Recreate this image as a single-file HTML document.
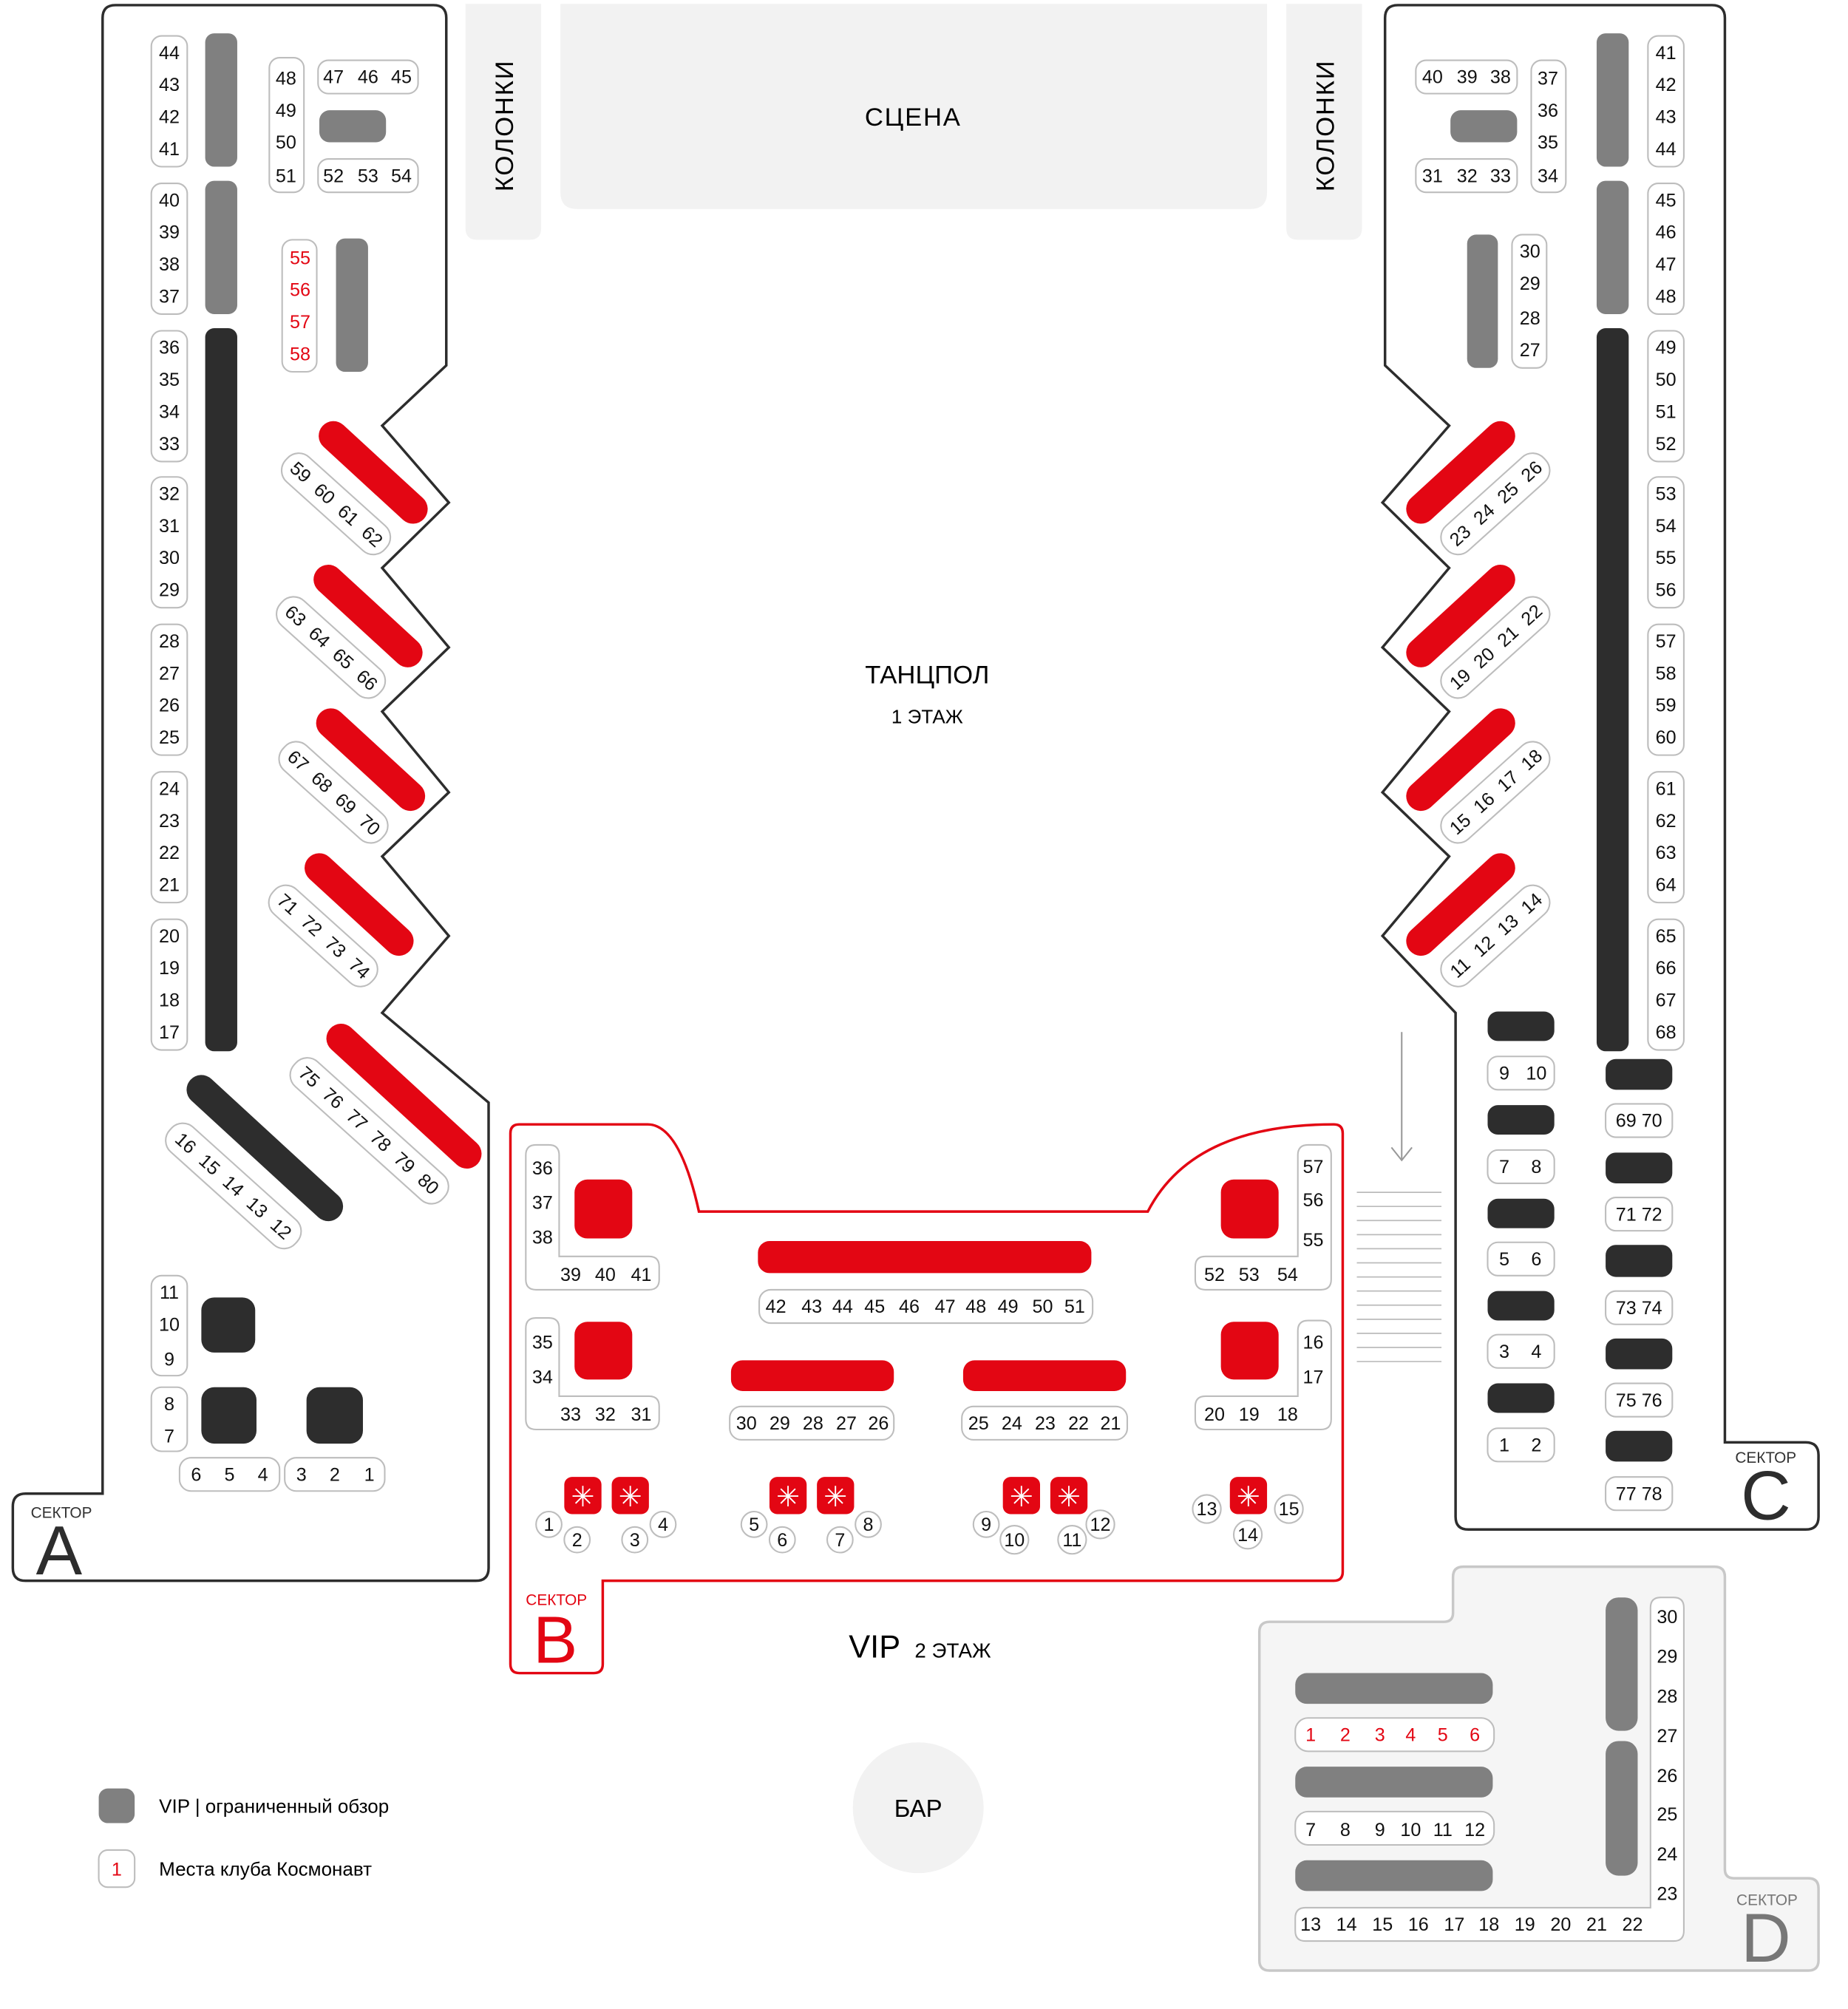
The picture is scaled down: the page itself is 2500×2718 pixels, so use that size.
<!DOCTYPE html>
<html><head><meta charset="utf-8"><style>
html,body{margin:0;padding:0;background:#fff}
svg{display:block}
text{font-family:"Liberation Sans","DejaVu Sans",sans-serif}
.n{font-size:14.5px;fill:#111;text-anchor:middle}
.r{fill:#e30613}
.b{fill:#fff;stroke:#bdbdbd;stroke-width:1.2}
.g{fill:#808080}
.k{fill:#2d2d2d}
.red{fill:#e30613}
</style></head><body>
<svg width="2500" height="2718" viewBox="0 0 1441 1567" preserveAspectRatio="none" xmlns="http://www.w3.org/2000/svg">
<!-- stage -->
<path d="M437,3 H988 V150 Q988,163 975,163 H450 Q437,163 437,150Z" fill="#f2f2f2"/>
<text x="712" y="98" style="font-size:20px;text-anchor:middle;letter-spacing:1px">СЦЕНА</text>
<path d="M363,3 H422 V178 Q422,187 413,187 H372 Q363,187 363,178Z" fill="#f2f2f2"/>
<path d="M1003,3 H1062 V178 Q1062,187 1053,187 H1012 Q1003,187 1003,178Z" fill="#f2f2f2"/>
<text transform="translate(400,98) rotate(-90)" style="font-size:20px;text-anchor:middle;letter-spacing:1px">КОЛОНКИ</text>
<text transform="translate(1040,98) rotate(-90)" style="font-size:20px;text-anchor:middle;letter-spacing:1px">КОЛОНКИ</text>
<text x="723" y="533" style="font-size:20px;text-anchor:middle">ТАНЦПОЛ</text>
<text x="723" y="564" style="font-size:15px;text-anchor:middle">1 ЭТАЖ</text>

<path d="M90,4 H338 Q348,4 348,14 V285 L298,332 L350,392 L298,443 L350,505 L298,555 L350,618 L298,668 L350,730 L298,790 L381,860 V1223 Q381,1233 371,1233 H20 Q10,1233 10,1223 V1175 Q10,1165 20,1165 H80 V14 Q80,4 90,4Z" fill="none" stroke="#2d2d2d" stroke-width="2"/>
<path d="M1335,4 Q1345,4 1345,14 V1125 H1408 Q1418,1125 1418,1135 V1183 Q1418,1193 1408,1193 H1145 Q1135,1193 1135,1183 V790 L1078,730 L1130,668 L1078,618 L1130,555 L1078,505 L1130,443 L1078,392 L1130,332 L1080,285 V14 Q1080,4 1090,4Z" fill="none" stroke="#2d2d2d" stroke-width="2"/>
<path d="M408,877 H505 Q530,877 545,945 H895 Q930,877 1040,877 Q1047,877 1047,884 V1226 Q1047,1233 1040,1233 H470 V1298 Q470,1305 463,1305 H405 Q398,1305 398,1298 V884 Q398,877 405,877Z" fill="none" stroke="#e30613" stroke-width="2"/>
<path d="M990,1265 H1126 Q1133,1265 1133,1258 V1230 Q1133,1222 1141,1222 H1337 Q1345,1222 1345,1230 V1458 Q1345,1465 1352,1465 H1410 Q1418,1465 1418,1473 V1529 Q1418,1537 1410,1537 H990 Q982,1537 982,1529 V1273 Q982,1265 990,1265Z" fill="#f5f5f5" stroke="#c8c8c8" stroke-width="2"/>

<!-- Sector A -->
<rect class="g" x="160" y="26" width="25" height="104" rx="7"/>
<rect class="g" x="160" y="141" width="25" height="104" rx="7"/>
<rect class="k" x="160" y="256" width="25" height="564" rx="7"/>
<rect class="b" x="118" y="28" width="28" height="102" rx="8"/>
<text class="n" x="132" y="46">44</text><text class="n" x="132" y="71">43</text><text class="n" x="132" y="96">42</text><text class="n" x="132" y="121">41</text>
<rect class="b" x="118" y="143" width="28" height="102" rx="8"/>
<text class="n" x="132" y="161">40</text><text class="n" x="132" y="186">39</text><text class="n" x="132" y="211">38</text><text class="n" x="132" y="236">37</text>
<rect class="b" x="118" y="258" width="28" height="102" rx="8"/>
<text class="n" x="132" y="276">36</text><text class="n" x="132" y="301">35</text><text class="n" x="132" y="326">34</text><text class="n" x="132" y="351">33</text>
<rect class="b" x="118" y="372" width="28" height="102" rx="8"/>
<text class="n" x="132" y="390">32</text><text class="n" x="132" y="415">31</text><text class="n" x="132" y="440">30</text><text class="n" x="132" y="465">29</text>
<rect class="b" x="118" y="487" width="28" height="102" rx="8"/>
<text class="n" x="132" y="505">28</text><text class="n" x="132" y="530">27</text><text class="n" x="132" y="555">26</text><text class="n" x="132" y="580">25</text>
<rect class="b" x="118" y="602" width="28" height="102" rx="8"/>
<text class="n" x="132" y="620">24</text><text class="n" x="132" y="645">23</text><text class="n" x="132" y="670">22</text><text class="n" x="132" y="695">21</text>
<rect class="b" x="118" y="717" width="28" height="102" rx="8"/>
<text class="n" x="132" y="735">20</text><text class="n" x="132" y="760">19</text><text class="n" x="132" y="785">18</text><text class="n" x="132" y="810">17</text>
<rect class="b" x="210" y="45" width="27" height="105" rx="8"/>
<text class="n" x="223" y="66">48</text><text class="n" x="223" y="91">49</text><text class="n" x="223" y="116">50</text><text class="n" x="223" y="142">51</text>
<rect class="b" x="248" y="47" width="78" height="26" rx="8"/>
<text class="n" x="260" y="65">47</text><text class="n" x="287" y="65">46</text><text class="n" x="313" y="65">45</text>
<rect class="b" x="248" y="124" width="78" height="26" rx="8"/>
<text class="n" x="260" y="142">52</text><text class="n" x="287" y="142">53</text><text class="n" x="313" y="142">54</text>
<rect class="g" x="249" y="86" width="52" height="25" rx="8"/>
<rect class="b" x="220" y="187" width="27" height="103" rx="8"/>
<text class="n r" x="234" y="206">55</text><text class="n r" x="234" y="231">56</text><text class="n r" x="234" y="256">57</text><text class="n r" x="234" y="281">58</text>
<rect class="g" x="262" y="186" width="25" height="104" rx="7"/>

<g stroke-linecap="round" stroke-width="23">
<line x1="260" y1="340" x2="322" y2="397" stroke="#e30613"/>
<line x1="256" y1="452" x2="318" y2="509" stroke="#e30613"/>
<line x1="258" y1="564" x2="320" y2="621" stroke="#e30613"/>
<line x1="249" y1="677" x2="311" y2="734" stroke="#e30613"/>
<line x1="266" y1="810" x2="364" y2="900" stroke="#e30613"/>
<line x1="157" y1="850" x2="256" y2="941" stroke="#2d2d2d"/>
</g>
<g transform="translate(262,393) rotate(42)"><rect class="b" x="-52" y="-13" width="104" height="26" rx="12"/>
<text class="n" x="-37" y="5">59</text><text class="n" x="-12" y="5">60</text><text class="n" x="13" y="5">61</text><text class="n" x="38" y="5">62</text></g>
<g transform="translate(258,505) rotate(42)"><rect class="b" x="-52" y="-13" width="104" height="26" rx="12"/>
<text class="n" x="-37" y="5">63</text><text class="n" x="-12" y="5">64</text><text class="n" x="13" y="5">65</text><text class="n" x="38" y="5">66</text></g>
<g transform="translate(260,618) rotate(42)"><rect class="b" x="-52" y="-13" width="104" height="26" rx="12"/>
<text class="n" x="-37" y="5">67</text><text class="n" x="-12" y="5">68</text><text class="n" x="13" y="5">69</text><text class="n" x="38" y="5">70</text></g>
<g transform="translate(252,730) rotate(42)"><rect class="b" x="-52" y="-13" width="104" height="26" rx="12"/>
<text class="n" x="-37" y="5">71</text><text class="n" x="-12" y="5">72</text><text class="n" x="13" y="5">73</text><text class="n" x="38" y="5">74</text></g>
<g transform="translate(288,882) rotate(42)"><rect class="b" x="-78" y="-13" width="156" height="26" rx="12"/>
<text class="n" x="-63" y="5">75</text><text class="n" x="-38" y="5">76</text><text class="n" x="-13" y="5">77</text><text class="n" x="12" y="5">78</text><text class="n" x="37" y="5">79</text><text class="n" x="62" y="5">80</text></g>
<g transform="translate(182,925) rotate(42)"><rect class="b" x="-66" y="-13" width="132" height="26" rx="12"/>
<text class="n" x="-50" y="5">16</text><text class="n" x="-25" y="5">15</text><text class="n" x="0" y="5">14</text><text class="n" x="25" y="5">13</text><text class="n" x="50" y="5">12</text></g>

<rect class="b" x="118" y="995" width="28" height="78" rx="8"/>
<text class="n" x="132" y="1013">11</text><text class="n" x="132" y="1038">10</text><text class="n" x="132" y="1065">9</text>
<rect class="b" x="118" y="1082" width="28" height="50" rx="8"/>
<text class="n" x="132" y="1100">8</text><text class="n" x="132" y="1125">7</text>
<rect class="k" x="157" y="1012" width="42" height="43" rx="10"/>
<rect class="k" x="157" y="1082" width="43" height="44" rx="10"/>
<rect class="k" x="239" y="1082" width="44" height="44" rx="10"/>
<rect class="b" x="140" y="1137" width="78" height="26" rx="9"/>
<text class="n" x="153" y="1155">6</text><text class="n" x="179" y="1155">5</text><text class="n" x="205" y="1155">4</text>
<rect class="b" x="222" y="1137" width="78" height="26" rx="9"/>
<text class="n" x="235" y="1155">3</text><text class="n" x="261" y="1155">2</text><text class="n" x="288" y="1155">1</text>
<text x="24" y="1184" style="font-size:12px;fill:#333">СЕКТОР</text>
<text x="46" y="1228" style="font-size:54px;fill:#2d2d2d;text-anchor:middle">A</text>

<!-- Sector C -->
<rect class="g" x="1245" y="26" width="25" height="104" rx="7"/>
<rect class="g" x="1245" y="141" width="25" height="104" rx="7"/>
<rect class="k" x="1245" y="256" width="25" height="564" rx="7"/>
<rect class="b" x="1285" y="28" width="28" height="102" rx="8"/>
<text class="n" x="1299" y="46">41</text><text class="n" x="1299" y="71">42</text><text class="n" x="1299" y="96">43</text><text class="n" x="1299" y="121">44</text>
<rect class="b" x="1285" y="143" width="28" height="102" rx="8"/>
<text class="n" x="1299" y="161">45</text><text class="n" x="1299" y="186">46</text><text class="n" x="1299" y="211">47</text><text class="n" x="1299" y="236">48</text>
<rect class="b" x="1285" y="258" width="28" height="102" rx="8"/>
<text class="n" x="1299" y="276">49</text><text class="n" x="1299" y="301">50</text><text class="n" x="1299" y="326">51</text><text class="n" x="1299" y="351">52</text>
<rect class="b" x="1285" y="372" width="28" height="102" rx="8"/>
<text class="n" x="1299" y="390">53</text><text class="n" x="1299" y="415">54</text><text class="n" x="1299" y="440">55</text><text class="n" x="1299" y="465">56</text>
<rect class="b" x="1285" y="487" width="28" height="102" rx="8"/>
<text class="n" x="1299" y="505">57</text><text class="n" x="1299" y="530">58</text><text class="n" x="1299" y="555">59</text><text class="n" x="1299" y="580">60</text>
<rect class="b" x="1285" y="602" width="28" height="102" rx="8"/>
<text class="n" x="1299" y="620">61</text><text class="n" x="1299" y="645">62</text><text class="n" x="1299" y="670">63</text><text class="n" x="1299" y="695">64</text>
<rect class="b" x="1285" y="717" width="28" height="102" rx="8"/>
<text class="n" x="1299" y="735">65</text><text class="n" x="1299" y="760">66</text><text class="n" x="1299" y="785">67</text><text class="n" x="1299" y="810">68</text>
<rect class="b" x="1194" y="47" width="27" height="103" rx="8"/>
<text class="n" x="1207" y="66">37</text><text class="n" x="1207" y="91">36</text><text class="n" x="1207" y="116">35</text><text class="n" x="1207" y="142">34</text>
<rect class="b" x="1104" y="47" width="79" height="26" rx="8"/>
<text class="n" x="1117" y="65">40</text><text class="n" x="1144" y="65">39</text><text class="n" x="1170" y="65">38</text>
<rect class="b" x="1104" y="124" width="79" height="26" rx="8"/>
<text class="n" x="1117" y="142">31</text><text class="n" x="1144" y="142">32</text><text class="n" x="1170" y="142">33</text>
<rect class="g" x="1131" y="86" width="52" height="25" rx="8"/>
<rect class="g" x="1144" y="183" width="24" height="104" rx="7"/>
<rect class="b" x="1179" y="183" width="27" height="104" rx="8"/>
<text class="n" x="1193" y="201">30</text><text class="n" x="1193" y="226">29</text><text class="n" x="1193" y="253">28</text><text class="n" x="1193" y="278">27</text>

<g stroke-linecap="round" stroke-width="23" stroke="#e30613">
<line x1="1170" y1="340" x2="1108" y2="397"/>
<line x1="1170" y1="452" x2="1108" y2="509"/>
<line x1="1170" y1="564" x2="1108" y2="621"/>
<line x1="1170" y1="677" x2="1108" y2="734"/>
</g>
<g transform="translate(1166,393) rotate(-42)"><rect class="b" x="-52" y="-13" width="104" height="26" rx="12"/>
<text class="n" x="-37" y="5">23</text><text class="n" x="-12" y="5">24</text><text class="n" x="13" y="5">25</text><text class="n" x="38" y="5">26</text></g>
<g transform="translate(1166,505) rotate(-42)"><rect class="b" x="-52" y="-13" width="104" height="26" rx="12"/>
<text class="n" x="-37" y="5">19</text><text class="n" x="-12" y="5">20</text><text class="n" x="13" y="5">21</text><text class="n" x="38" y="5">22</text></g>
<g transform="translate(1166,618) rotate(-42)"><rect class="b" x="-52" y="-13" width="104" height="26" rx="12"/>
<text class="n" x="-37" y="5">15</text><text class="n" x="-12" y="5">16</text><text class="n" x="13" y="5">17</text><text class="n" x="38" y="5">18</text></g>
<g transform="translate(1166,730) rotate(-42)"><rect class="b" x="-52" y="-13" width="104" height="26" rx="12"/>
<text class="n" x="-37" y="5">11</text><text class="n" x="-12" y="5">12</text><text class="n" x="13" y="5">13</text><text class="n" x="38" y="5">14</text></g>

<rect class="k" x="1160" y="789" width="52" height="23" rx="8"/>
<rect class="b" x="1160" y="824" width="52" height="26" rx="8"/><text class="n" x="1173" y="842">9</text><text class="n" x="1198" y="842">10</text>
<rect class="k" x="1160" y="862" width="52" height="23" rx="8"/>
<rect class="b" x="1160" y="897" width="52" height="26" rx="8"/><text class="n" x="1173" y="915">7</text><text class="n" x="1198" y="915">8</text>
<rect class="k" x="1160" y="935" width="52" height="23" rx="8"/>
<rect class="b" x="1160" y="969" width="52" height="26" rx="8"/><text class="n" x="1173" y="987">5</text><text class="n" x="1198" y="987">6</text>
<rect class="k" x="1160" y="1007" width="52" height="23" rx="8"/>
<rect class="b" x="1160" y="1041" width="52" height="26" rx="8"/><text class="n" x="1173" y="1059">3</text><text class="n" x="1198" y="1059">4</text>
<rect class="k" x="1160" y="1079" width="52" height="23" rx="8"/>
<rect class="b" x="1160" y="1114" width="52" height="26" rx="8"/><text class="n" x="1173" y="1132">1</text><text class="n" x="1198" y="1132">2</text>

<rect class="k" x="1252" y="826" width="52" height="24" rx="8"/>
<rect class="b" x="1252" y="861" width="52" height="26" rx="8"/><text class="n" x="1278" y="879">69 70</text>
<rect class="k" x="1252" y="899" width="52" height="24" rx="8"/>
<rect class="b" x="1252" y="934" width="52" height="26" rx="8"/><text class="n" x="1278" y="952">71 72</text>
<rect class="k" x="1252" y="971" width="52" height="25" rx="8"/>
<rect class="b" x="1252" y="1007" width="52" height="26" rx="8"/><text class="n" x="1278" y="1025">73 74</text>
<rect class="k" x="1252" y="1044" width="52" height="24" rx="8"/>
<rect class="b" x="1252" y="1079" width="52" height="26" rx="8"/><text class="n" x="1278" y="1097">75 76</text>
<rect class="k" x="1252" y="1116" width="52" height="24" rx="8"/>
<rect class="b" x="1252" y="1152" width="52" height="26" rx="8"/><text class="n" x="1278" y="1170">77 78</text>

<line x1="1093" y1="805" x2="1093" y2="905" stroke="#999" stroke-width="1.2"/>
<polyline points="1085,895 1093,905 1101,895" fill="none" stroke="#999" stroke-width="1.2"/>
<g stroke="#bbb" stroke-width="1">
<line x1="1058" y1="930" x2="1124" y2="930"/><line x1="1058" y1="941" x2="1124" y2="941"/><line x1="1058" y1="952" x2="1124" y2="952"/><line x1="1058" y1="963" x2="1124" y2="963"/><line x1="1058" y1="974" x2="1124" y2="974"/><line x1="1058" y1="985" x2="1124" y2="985"/><line x1="1058" y1="996" x2="1124" y2="996"/><line x1="1058" y1="1007" x2="1124" y2="1007"/><line x1="1058" y1="1018" x2="1124" y2="1018"/><line x1="1058" y1="1029" x2="1124" y2="1029"/><line x1="1058" y1="1040" x2="1124" y2="1040"/><line x1="1058" y1="1051" x2="1124" y2="1051"/><line x1="1058" y1="1062" x2="1124" y2="1062"/>
</g>
<text x="1353" y="1141" style="font-size:12px;fill:#333">СЕКТОР</text>
<text x="1377" y="1185" style="font-size:54px;fill:#2d2d2d;text-anchor:middle">C</text>

<!-- Sector B -->
<path class="b" d="M418,893 H428 Q436,893 436,901 V980 H506 Q514,980 514,988 V998 Q514,1006 506,1006 H418 Q410,1006 410,998 V901 Q410,893 418,893Z"/>
<text class="n" x="423" y="916">36</text><text class="n" x="423" y="943">37</text><text class="n" x="423" y="970">38</text>
<text class="n" x="445" y="999">39</text><text class="n" x="472" y="999">40</text><text class="n" x="500" y="999">41</text>
<rect class="red" x="448" y="920" width="45" height="46" rx="10"/>
<path class="b" d="M418,1028 H428 Q436,1028 436,1036 V1089 H506 Q514,1089 514,1097 V1107 Q514,1115 506,1115 H418 Q410,1115 410,1107 V1036 Q410,1028 418,1028Z"/>
<text class="n" x="423" y="1052">35</text><text class="n" x="423" y="1079">34</text>
<text class="n" x="445" y="1108">33</text><text class="n" x="472" y="1108">32</text><text class="n" x="500" y="1108">31</text>
<rect class="red" x="448" y="1031" width="45" height="45" rx="10"/>

<path class="b" d="M1020,893 H1030 Q1038,893 1038,901 V998 Q1038,1006 1030,1006 H940 Q932,1006 932,998 V988 Q932,980 940,980 H1012 V901 Q1012,893 1020,893Z"/>
<text class="n" x="1024" y="915">57</text><text class="n" x="1024" y="941">56</text><text class="n" x="1024" y="972">55</text>
<text class="n" x="947" y="999">52</text><text class="n" x="974" y="999">53</text><text class="n" x="1004" y="999">54</text>
<rect class="red" x="952" y="920" width="45" height="46" rx="10"/>
<path class="b" d="M1020,1030 H1030 Q1038,1030 1038,1038 V1107 Q1038,1115 1030,1115 H940 Q932,1115 932,1107 V1097 Q932,1089 940,1089 H1012 V1038 Q1012,1030 1020,1030Z"/>
<text class="n" x="1024" y="1052">16</text><text class="n" x="1024" y="1079">17</text>
<text class="n" x="947" y="1108">20</text><text class="n" x="974" y="1108">19</text><text class="n" x="1004" y="1108">18</text>
<rect class="red" x="952" y="1031" width="45" height="45" rx="10"/>

<rect class="red" x="591" y="968" width="260" height="25" rx="9"/>
<rect class="b" x="592" y="1006" width="260" height="26" rx="9"/>
<text class="n" x="605" y="1024">42</text><text class="n" x="633" y="1024">43</text><text class="n" x="657" y="1024">44</text><text class="n" x="682" y="1024">45</text><text class="n" x="709" y="1024">46</text><text class="n" x="737" y="1024">47</text><text class="n" x="761" y="1024">48</text><text class="n" x="786" y="1024">49</text><text class="n" x="813" y="1024">50</text><text class="n" x="838" y="1024">51</text>
<rect class="red" x="570" y="1061" width="127" height="24" rx="9"/>
<rect class="red" x="751" y="1061" width="127" height="24" rx="9"/>
<rect class="b" x="569" y="1097" width="128" height="26" rx="9"/>
<text class="n" x="582" y="1115">30</text><text class="n" x="608" y="1115">29</text><text class="n" x="634" y="1115">28</text><text class="n" x="660" y="1115">27</text><text class="n" x="685" y="1115">26</text>
<rect class="b" x="750" y="1097" width="129" height="26" rx="9"/>
<text class="n" x="763" y="1115">25</text><text class="n" x="789" y="1115">24</text><text class="n" x="815" y="1115">23</text><text class="n" x="841" y="1115">22</text><text class="n" x="866" y="1115">21</text>

<g>
<rect class="red" x="440" y="1152" width="29" height="29" rx="6"/><rect class="red" x="477" y="1152" width="29" height="29" rx="6"/>
<rect class="red" x="600" y="1152" width="29" height="29" rx="6"/><rect class="red" x="637" y="1152" width="29" height="29" rx="6"/>
<rect class="red" x="782" y="1152" width="29" height="29" rx="6"/><rect class="red" x="819" y="1152" width="29" height="29" rx="6"/>
<rect class="red" x="959" y="1152" width="29" height="29" rx="6"/>
</g>
<g style="font-size:22px;fill:#fff;text-anchor:middle">
<text x="454.5" y="1175">✳</text><text x="491.5" y="1175">✳</text>
<text x="614.5" y="1175">✳</text><text x="651.5" y="1175">✳</text>
<text x="796.5" y="1175">✳</text><text x="833.5" y="1175">✳</text>
<text x="973.5" y="1175">✳</text>
</g>
<g>
<circle class="b" cx="428" cy="1189" r="10"/><text class="n" x="428" y="1194">1</text>
<circle class="b" cx="450" cy="1201" r="10"/><text class="n" x="450" y="1206">2</text>
<circle class="b" cx="495" cy="1201" r="10"/><text class="n" x="495" y="1206">3</text>
<circle class="b" cx="517" cy="1189" r="10"/><text class="n" x="517" y="1194">4</text>
<circle class="b" cx="588" cy="1189" r="10"/><text class="n" x="588" y="1194">5</text>
<circle class="b" cx="610" cy="1201" r="10"/><text class="n" x="610" y="1206">6</text>
<circle class="b" cx="655" cy="1201" r="10"/><text class="n" x="655" y="1206">7</text>
<circle class="b" cx="677" cy="1189" r="10"/><text class="n" x="677" y="1194">8</text>
<circle class="b" cx="769" cy="1189" r="10"/><text class="n" x="769" y="1194">9</text>
<circle class="b" cx="791" cy="1201" r="11"/><text class="n" x="791" y="1206">10</text>
<circle class="b" cx="836" cy="1201" r="11"/><text class="n" x="836" y="1206">11</text>
<circle class="b" cx="858" cy="1189" r="11"/><text class="n" x="858" y="1194">12</text>
<circle class="b" cx="941" cy="1177" r="11"/><text class="n" x="941" y="1182">13</text>
<circle class="b" cx="973" cy="1197" r="11"/><text class="n" x="973" y="1202">14</text>
<circle class="b" cx="1005" cy="1177" r="11"/><text class="n" x="1005" y="1182">15</text>
</g>
<text x="410" y="1252" style="font-size:12px;fill:#e30613">СЕКТОР</text>
<text x="433" y="1297" style="font-size:52px;fill:#e30613;text-anchor:middle">B</text>
<text x="682" y="1293" style="font-size:25px;text-anchor:middle">VIP</text>
<text x="743" y="1293" style="font-size:16px;text-anchor:middle">2 ЭТАЖ</text>

<circle cx="716" cy="1410" r="51" fill="#f2f2f2"/>
<text x="716" y="1417" style="font-size:19px;text-anchor:middle">БАР</text>

<rect class="g" x="77" y="1395" width="28" height="27" rx="7"/>
<text x="124" y="1414" style="font-size:15px">VIP  |  ограниченный обзор</text>
<rect class="b" x="77" y="1443" width="28" height="29" rx="7"/>
<text class="n r" x="91" y="1463">1</text>
<text x="124" y="1463" style="font-size:15px">Места клуба Космонавт</text>

<!-- Sector D -->
<rect class="g" x="1010" y="1305" width="154" height="24" rx="9"/>
<rect class="g" x="1010" y="1378" width="154" height="24" rx="9"/>
<rect class="g" x="1010" y="1451" width="154" height="24" rx="9"/>
<rect class="b" x="1010" y="1340" width="155" height="26" rx="10"/>
<text class="n r" x="1022" y="1358">1</text><text class="n r" x="1049" y="1358">2</text><text class="n r" x="1076" y="1358">3</text><text class="n r" x="1100" y="1358">4</text><text class="n r" x="1125" y="1358">5</text><text class="n r" x="1150" y="1358">6</text>
<rect class="b" x="1010" y="1413" width="155" height="26" rx="10"/>
<text class="n" x="1022" y="1432">7</text><text class="n" x="1049" y="1432">8</text><text class="n" x="1076" y="1432">9</text><text class="n" x="1100" y="1432">10</text><text class="n" x="1125" y="1432">11</text><text class="n" x="1150" y="1432">12</text>
<rect class="g" x="1252" y="1246" width="25" height="104" rx="10"/>
<rect class="g" x="1252" y="1358" width="25" height="105" rx="10"/>
<path class="b" d="M1295,1246 H1305 Q1313,1246 1313,1254 V1506 Q1313,1514 1305,1514 H1018 Q1010,1514 1010,1506 V1496 Q1010,1488 1018,1488 H1287 V1254 Q1287,1246 1295,1246Z"/>
<text class="n" x="1300" y="1266">30</text><text class="n" x="1300" y="1297">29</text><text class="n" x="1300" y="1328">28</text><text class="n" x="1300" y="1359">27</text><text class="n" x="1300" y="1390">26</text><text class="n" x="1300" y="1420">25</text><text class="n" x="1300" y="1451">24</text><text class="n" x="1300" y="1482">23</text>
<text class="n" x="1022" y="1506">13</text><text class="n" x="1050" y="1506">14</text><text class="n" x="1078" y="1506">15</text><text class="n" x="1106" y="1506">16</text><text class="n" x="1134" y="1506">17</text><text class="n" x="1161" y="1506">18</text><text class="n" x="1189" y="1506">19</text><text class="n" x="1217" y="1506">20</text><text class="n" x="1245" y="1506">21</text><text class="n" x="1273" y="1506">22</text>
<text x="1354" y="1486" style="font-size:12px;fill:#777">СЕКТОР</text>
<text x="1377" y="1530" style="font-size:54px;fill:#777;text-anchor:middle">D</text>
</svg>
</body></html>
